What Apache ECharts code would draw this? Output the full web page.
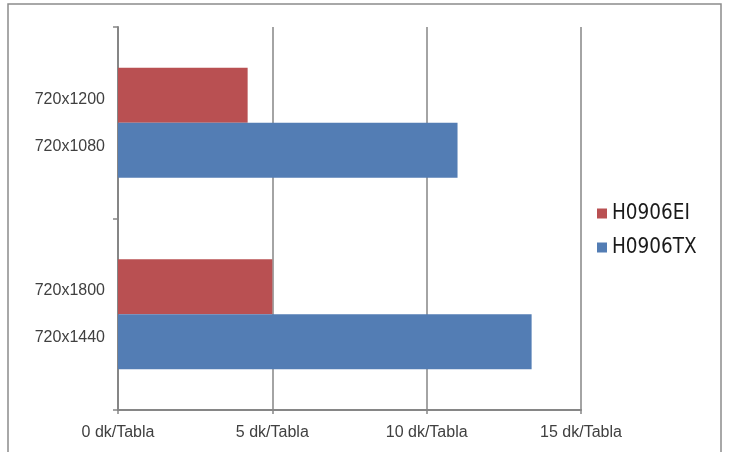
<!DOCTYPE html>
<html>
<head>
<meta charset="utf-8">
<script src="https://cdn.jsdelivr.net/npm/echarts@6/dist/echarts.min.js"></script>
<style>
  html, body { margin: 0; padding: 0; background: #fff; }
  #main { width: 731px; height: 452px; }
</style>
</head>
<body>
<div id="main"></div>
<script>
var groups = ['A', 'B'];
var seriesNames = ['H0906EI', 'H0906TX'];
var eiValues = [4.2, 5.0];
var txValues = [11.0, 13.4];
var eiLabels = ['720x1200', '720x1800'];
var txLabels = ['720x1080', '720x1440'];
var xTicks = [0, 5, 10, 15];

var chart = echarts.init(document.getElementById('main'));

function makeSeries(name, values, labels, color, dy) {
  return {
    name: name,
    type: 'bar',
    barWidth: 55,
    barGap: '0%',
    itemStyle: { color: color },
    label: {
      show: true,
      position: 'left',
      distance: 13,
      offset: [0, dy],
      color: '#404040',
      fontSize: 16,
      fontFamily: 'Liberation Sans, Arial, sans-serif',
      formatter: function (p) { return labels[p.dataIndex]; }
    },
    data: values
  };
}

var option = {
  backgroundColor: '#ffffff',
  animation: false,
  graphic: [{
    type: 'rect',
    shape: { x: 8, y: 4, width: 713, height: 470 },
    style: { fill: 'none', stroke: '#8c8c8c', lineWidth: 1.5 }
  }],
  legend: {
    orient: 'vertical',
    left: 592,
    top: 198,
    itemWidth: 10,
    itemHeight: 10,
    itemGap: 13,
    icon: 'rect',
    data: seriesNames,
    textStyle: {
      fontSize: 20.5,
      color: '#1a1a1a',
      fontFamily: 'DejaVu Sans Condensed, sans-serif'
    }
  },
  grid: { left: 118, right: 150, top: 27, bottom: 42 },
  xAxis: {
    type: 'value',
    min: xTicks[0],
    max: xTicks[xTicks.length - 1],
    interval: 5,
    axisLine: { show: true, lineStyle: { color: '#868686', width: 2 } },
    axisTick: { show: true, length: 4, lineStyle: { color: '#868686', width: 1.5 } },
    axisLabel: {
      margin: 15,
      color: '#404040',
      fontSize: 16,
      fontFamily: 'Liberation Sans, Arial, sans-serif',
      formatter: function (v) { return v + ' dk/Tabla'; }
    },
    splitLine: { show: true, lineStyle: { color: '#868686', width: 1.5 } }
  },
  yAxis: {
    type: 'category',
    inverse: true,
    data: groups,
    axisLine: { show: true, lineStyle: { color: '#868686', width: 2 } },
    axisTick: { show: true, length: 5, lineStyle: { color: '#868686', width: 1.5 } },
    axisLabel: { show: false }
  },
  series: [
    makeSeries(seriesNames[0], eiValues, eiLabels, '#B95052', 4),
    makeSeries(seriesNames[1], txValues, txLabels, '#537DB4', -4)
  ]
};

chart.setOption(option);
</script>
</body>
</html>
